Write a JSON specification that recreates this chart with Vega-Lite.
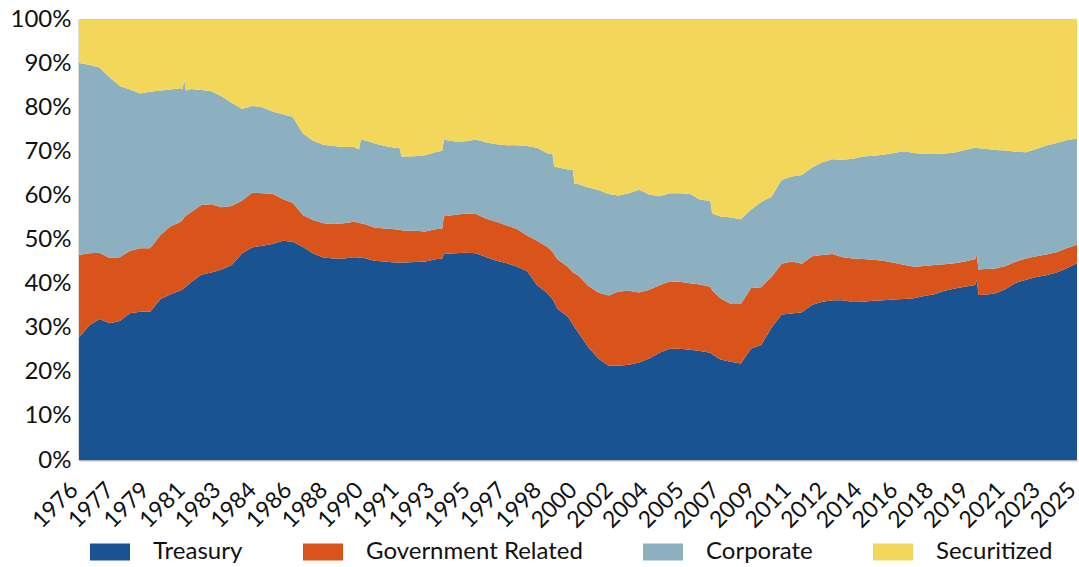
{
  "$schema": "https://vega.github.io/schema/vega-lite/v6.json",
  "width": 998,
  "height": 441,
  "autosize": {"type": "none"},
  "padding": {"left": 79, "top": 19, "right": 2, "bottom": 107},
  "background": "white",
  "config": {
    "view": {"stroke": null},
    "font": "Lato",
    "axis": {"domainColor": "#b8b8b8", "domainWidth": 2, "ticks": false, "grid": false, "labelColor": "#111111", "labelFont": "Lato", "title": null},
    "legend": {"labelFont": "Lato"}
  },
  "datasets": {
    "order": [
      {"series": "Treasury", "rank": 1},
      {"series": "Government Related", "rank": 2},
      {"series": "Corporate", "rank": 3},
      {"series": "Securitized", "rank": 4}
    ]
  },
  "data": {"values": [
    {"date": "1976-01-01", "Treasury": 27.8, "Government Related": 18.7, "Corporate": 43.5, "Securitized": 10.0},
    {"date": "1976-07-01", "Treasury": 30.5, "Government Related": 16.4, "Corporate": 42.7, "Securitized": 10.4},
    {"date": "1977-01-01", "Treasury": 32.0, "Government Related": 15.0, "Corporate": 42.0, "Securitized": 11.0},
    {"date": "1977-07-01", "Treasury": 31.0, "Government Related": 14.8, "Corporate": 41.0, "Securitized": 13.2},
    {"date": "1978-01-01", "Treasury": 31.5, "Government Related": 14.5, "Corporate": 38.8, "Securitized": 15.2},
    {"date": "1978-07-01", "Treasury": 33.3, "Government Related": 14.1, "Corporate": 36.6, "Securitized": 16.0},
    {"date": "1979-01-01", "Treasury": 33.6, "Government Related": 14.4, "Corporate": 35.1, "Securitized": 16.9},
    {"date": "1979-07-01", "Treasury": 33.6, "Government Related": 14.4, "Corporate": 35.5, "Securitized": 16.5},
    {"date": "1980-01-01", "Treasury": 36.5, "Government Related": 14.5, "Corporate": 32.8, "Securitized": 16.2},
    {"date": "1980-07-01", "Treasury": 37.6, "Government Related": 15.4, "Corporate": 31.0, "Securitized": 16.0},
    {"date": "1981-01-01", "Treasury": 38.5, "Government Related": 15.5, "Corporate": 30.3, "Securitized": 15.7},
    {"date": "1981-02-01", "Treasury": 38.7, "Government Related": 15.8, "Corporate": 29.5, "Securitized": 16.0},
    {"date": "1981-03-01", "Treasury": 39.0, "Government Related": 16.0, "Corporate": 31.4, "Securitized": 13.6},
    {"date": "1981-04-01", "Treasury": 39.3, "Government Related": 16.1, "Corporate": 28.4, "Securitized": 16.2},
    {"date": "1981-07-01", "Treasury": 40.3, "Government Related": 15.9, "Corporate": 27.9, "Securitized": 15.9},
    {"date": "1982-01-01", "Treasury": 42.0, "Government Related": 15.8, "Corporate": 26.1, "Securitized": 16.1},
    {"date": "1982-07-01", "Treasury": 42.5, "Government Related": 15.5, "Corporate": 25.6, "Securitized": 16.4},
    {"date": "1983-01-01", "Treasury": 43.2, "Government Related": 14.1, "Corporate": 25.2, "Securitized": 17.5},
    {"date": "1983-07-01", "Treasury": 44.2, "Government Related": 13.4, "Corporate": 23.4, "Securitized": 19.0},
    {"date": "1984-01-01", "Treasury": 46.8, "Government Related": 12.0, "Corporate": 20.8, "Securitized": 20.4},
    {"date": "1984-07-01", "Treasury": 48.2, "Government Related": 12.4, "Corporate": 19.7, "Securitized": 19.7},
    {"date": "1985-01-01", "Treasury": 48.6, "Government Related": 11.9, "Corporate": 19.5, "Securitized": 20.0},
    {"date": "1985-07-01", "Treasury": 49.0, "Government Related": 11.4, "Corporate": 18.6, "Securitized": 21.0},
    {"date": "1986-01-01", "Treasury": 49.7, "Government Related": 9.5, "Corporate": 19.2, "Securitized": 21.6},
    {"date": "1986-07-01", "Treasury": 49.5, "Government Related": 8.8, "Corporate": 19.5, "Securitized": 22.2},
    {"date": "1987-01-01", "Treasury": 48.3, "Government Related": 7.2, "Corporate": 18.5, "Securitized": 26.0},
    {"date": "1987-07-01", "Treasury": 46.8, "Government Related": 7.6, "Corporate": 18.0, "Securitized": 27.6},
    {"date": "1988-01-01", "Treasury": 45.9, "Government Related": 7.8, "Corporate": 17.8, "Securitized": 28.5},
    {"date": "1988-07-01", "Treasury": 45.7, "Government Related": 7.8, "Corporate": 17.7, "Securitized": 28.8},
    {"date": "1989-01-01", "Treasury": 45.7, "Government Related": 8.0, "Corporate": 17.3, "Securitized": 29.0},
    {"date": "1989-07-01", "Treasury": 46.0, "Government Related": 8.0, "Corporate": 17.0, "Securitized": 29.0},
    {"date": "1989-10-01", "Treasury": 45.9, "Government Related": 7.9, "Corporate": 16.6, "Securitized": 29.6},
    {"date": "1989-11-01", "Treasury": 45.9, "Government Related": 7.8, "Corporate": 18.9, "Securitized": 27.4},
    {"date": "1990-01-01", "Treasury": 45.8, "Government Related": 7.7, "Corporate": 19.0, "Securitized": 27.5},
    {"date": "1990-07-01", "Treasury": 45.2, "Government Related": 7.5, "Corporate": 19.1, "Securitized": 28.2},
    {"date": "1991-01-01", "Treasury": 45.0, "Government Related": 7.5, "Corporate": 18.7, "Securitized": 28.8},
    {"date": "1991-07-01", "Treasury": 44.8, "Government Related": 7.5, "Corporate": 18.5, "Securitized": 29.2},
    {"date": "1991-10-01", "Treasury": 44.8, "Government Related": 7.4, "Corporate": 18.5, "Securitized": 29.3},
    {"date": "1991-11-01", "Treasury": 44.8, "Government Related": 7.3, "Corporate": 16.7, "Securitized": 31.2},
    {"date": "1992-01-01", "Treasury": 44.8, "Government Related": 7.2, "Corporate": 16.8, "Securitized": 31.2},
    {"date": "1992-07-01", "Treasury": 44.9, "Government Related": 7.1, "Corporate": 16.9, "Securitized": 31.1},
    {"date": "1993-01-01", "Treasury": 45.0, "Government Related": 6.8, "Corporate": 17.3, "Securitized": 30.9},
    {"date": "1993-07-01", "Treasury": 45.5, "Government Related": 6.8, "Corporate": 17.5, "Securitized": 30.2},
    {"date": "1993-11-01", "Treasury": 45.7, "Government Related": 6.8, "Corporate": 17.6, "Securitized": 29.9},
    {"date": "1993-12-01", "Treasury": 46.7, "Government Related": 8.6, "Corporate": 17.3, "Securitized": 27.4},
    {"date": "1994-07-01", "Treasury": 46.9, "Government Related": 8.7, "Corporate": 16.6, "Securitized": 27.8},
    {"date": "1995-01-01", "Treasury": 47.0, "Government Related": 8.9, "Corporate": 16.4, "Securitized": 27.7},
    {"date": "1995-07-01", "Treasury": 46.9, "Government Related": 8.9, "Corporate": 16.9, "Securitized": 27.3},
    {"date": "1996-01-01", "Treasury": 46.0, "Government Related": 8.7, "Corporate": 17.3, "Securitized": 28.0},
    {"date": "1996-07-01", "Treasury": 45.2, "Government Related": 8.8, "Corporate": 17.6, "Securitized": 28.4},
    {"date": "1997-01-01", "Treasury": 44.6, "Government Related": 8.6, "Corporate": 18.2, "Securitized": 28.6},
    {"date": "1997-07-01", "Treasury": 43.9, "Government Related": 8.5, "Corporate": 19.0, "Securitized": 28.6},
    {"date": "1998-01-01", "Treasury": 42.8, "Government Related": 8.1, "Corporate": 20.3, "Securitized": 28.8},
    {"date": "1998-07-01", "Treasury": 39.6, "Government Related": 10.1, "Corporate": 21.1, "Securitized": 29.2},
    {"date": "1999-01-01", "Treasury": 37.8, "Government Related": 10.5, "Corporate": 21.2, "Securitized": 30.5},
    {"date": "1999-04-01", "Treasury": 36.5, "Government Related": 10.7, "Corporate": 22.2, "Securitized": 30.6},
    {"date": "1999-05-01", "Treasury": 35.8, "Government Related": 10.8, "Corporate": 19.9, "Securitized": 33.5},
    {"date": "1999-07-01", "Treasury": 34.3, "Government Related": 11.2, "Corporate": 20.9, "Securitized": 33.6},
    {"date": "2000-01-01", "Treasury": 32.5, "Government Related": 11.3, "Corporate": 22.1, "Securitized": 34.1},
    {"date": "2000-04-01", "Treasury": 30.8, "Government Related": 11.8, "Corporate": 23.2, "Securitized": 34.2},
    {"date": "2000-05-01", "Treasury": 30.1, "Government Related": 12.2, "Corporate": 20.3, "Securitized": 37.4},
    {"date": "2000-07-01", "Treasury": 29.0, "Government Related": 12.9, "Corporate": 20.7, "Securitized": 37.4},
    {"date": "2001-01-01", "Treasury": 25.6, "Government Related": 13.9, "Corporate": 22.3, "Securitized": 38.2},
    {"date": "2001-07-01", "Treasury": 23.0, "Government Related": 15.0, "Corporate": 23.2, "Securitized": 38.8},
    {"date": "2002-01-01", "Treasury": 21.4, "Government Related": 15.9, "Corporate": 23.0, "Securitized": 39.7},
    {"date": "2002-07-01", "Treasury": 21.4, "Government Related": 16.8, "Corporate": 21.8, "Securitized": 40.0},
    {"date": "2003-01-01", "Treasury": 21.6, "Government Related": 16.8, "Corporate": 22.1, "Securitized": 39.5},
    {"date": "2003-07-01", "Treasury": 22.1, "Government Related": 15.9, "Corporate": 23.3, "Securitized": 38.7},
    {"date": "2004-01-01", "Treasury": 23.0, "Government Related": 15.6, "Corporate": 21.6, "Securitized": 39.8},
    {"date": "2004-07-01", "Treasury": 24.3, "Government Related": 15.3, "Corporate": 20.2, "Securitized": 40.2},
    {"date": "2005-01-01", "Treasury": 25.2, "Government Related": 15.3, "Corporate": 20.0, "Securitized": 39.5},
    {"date": "2005-07-01", "Treasury": 25.2, "Government Related": 15.2, "Corporate": 20.1, "Securitized": 39.5},
    {"date": "2006-01-01", "Treasury": 25.0, "Government Related": 15.1, "Corporate": 20.2, "Securitized": 39.7},
    {"date": "2006-07-01", "Treasury": 24.7, "Government Related": 15.1, "Corporate": 19.2, "Securitized": 41.0},
    {"date": "2007-01-01", "Treasury": 24.3, "Government Related": 15.0, "Corporate": 19.5, "Securitized": 41.2},
    {"date": "2007-02-01", "Treasury": 24.0, "Government Related": 14.5, "Corporate": 17.4, "Securitized": 44.1},
    {"date": "2007-07-01", "Treasury": 22.8, "Government Related": 13.9, "Corporate": 18.5, "Securitized": 44.8},
    {"date": "2008-01-01", "Treasury": 22.3, "Government Related": 13.1, "Corporate": 19.6, "Securitized": 45.0},
    {"date": "2008-07-01", "Treasury": 21.9, "Government Related": 13.5, "Corporate": 19.2, "Securitized": 45.4},
    {"date": "2009-01-01", "Treasury": 25.3, "Government Related": 13.7, "Corporate": 17.8, "Securitized": 43.2},
    {"date": "2009-07-01", "Treasury": 26.1, "Government Related": 13.1, "Corporate": 19.3, "Securitized": 41.5},
    {"date": "2010-01-01", "Treasury": 30.0, "Government Related": 11.5, "Corporate": 18.2, "Securitized": 40.3},
    {"date": "2010-07-01", "Treasury": 33.0, "Government Related": 11.5, "Corporate": 19.0, "Securitized": 36.5},
    {"date": "2011-01-01", "Treasury": 33.2, "Government Related": 11.8, "Corporate": 19.3, "Securitized": 35.7},
    {"date": "2011-07-01", "Treasury": 33.5, "Government Related": 11.0, "Corporate": 20.1, "Securitized": 35.4},
    {"date": "2012-01-01", "Treasury": 35.2, "Government Related": 11.0, "Corporate": 20.1, "Securitized": 33.7},
    {"date": "2012-07-01", "Treasury": 35.9, "Government Related": 10.6, "Corporate": 21.0, "Securitized": 32.5},
    {"date": "2013-01-01", "Treasury": 36.2, "Government Related": 10.5, "Corporate": 21.5, "Securitized": 31.8},
    {"date": "2013-07-01", "Treasury": 36.2, "Government Related": 9.8, "Corporate": 22.1, "Securitized": 31.9},
    {"date": "2014-01-01", "Treasury": 35.8, "Government Related": 9.9, "Corporate": 22.6, "Securitized": 31.7},
    {"date": "2014-07-01", "Treasury": 35.9, "Government Related": 9.7, "Corporate": 23.2, "Securitized": 31.2},
    {"date": "2015-01-01", "Treasury": 36.1, "Government Related": 9.3, "Corporate": 23.6, "Securitized": 31.0},
    {"date": "2015-07-01", "Treasury": 36.2, "Government Related": 9.0, "Corporate": 24.0, "Securitized": 30.8},
    {"date": "2016-01-01", "Treasury": 36.4, "Government Related": 8.3, "Corporate": 24.9, "Securitized": 30.4},
    {"date": "2016-07-01", "Treasury": 36.5, "Government Related": 7.8, "Corporate": 25.7, "Securitized": 30.0},
    {"date": "2017-01-01", "Treasury": 36.7, "Government Related": 7.1, "Corporate": 25.8, "Securitized": 30.4},
    {"date": "2017-07-01", "Treasury": 37.2, "Government Related": 6.8, "Corporate": 25.4, "Securitized": 30.6},
    {"date": "2018-01-01", "Treasury": 37.6, "Government Related": 6.6, "Corporate": 25.2, "Securitized": 30.6},
    {"date": "2018-07-01", "Treasury": 38.4, "Government Related": 6.0, "Corporate": 25.1, "Securitized": 30.5},
    {"date": "2019-01-01", "Treasury": 38.9, "Government Related": 5.7, "Corporate": 25.1, "Securitized": 30.3},
    {"date": "2019-07-01", "Treasury": 39.3, "Government Related": 5.7, "Corporate": 25.3, "Securitized": 29.7},
    {"date": "2020-01-01", "Treasury": 39.7, "Government Related": 5.8, "Corporate": 25.3, "Securitized": 29.2},
    {"date": "2020-02-01", "Treasury": 40.8, "Government Related": 5.7, "Corporate": 24.3, "Securitized": 29.2},
    {"date": "2020-03-01", "Treasury": 37.4, "Government Related": 5.8, "Corporate": 27.5, "Securitized": 29.3},
    {"date": "2020-07-01", "Treasury": 37.5, "Government Related": 5.8, "Corporate": 27.3, "Securitized": 29.4},
    {"date": "2021-01-01", "Treasury": 37.8, "Government Related": 5.6, "Corporate": 26.9, "Securitized": 29.7},
    {"date": "2021-07-01", "Treasury": 38.8, "Government Related": 5.2, "Corporate": 26.2, "Securitized": 29.8},
    {"date": "2022-01-01", "Treasury": 40.2, "Government Related": 4.8, "Corporate": 24.9, "Securitized": 30.1},
    {"date": "2022-07-01", "Treasury": 40.9, "Government Related": 4.8, "Corporate": 24.1, "Securitized": 30.2},
    {"date": "2023-01-01", "Treasury": 41.5, "Government Related": 4.7, "Corporate": 24.3, "Securitized": 29.5},
    {"date": "2023-07-01", "Treasury": 41.9, "Government Related": 4.7, "Corporate": 24.7, "Securitized": 28.7},
    {"date": "2024-01-01", "Treasury": 42.5, "Government Related": 4.6, "Corporate": 24.8, "Securitized": 28.1},
    {"date": "2024-07-01", "Treasury": 43.5, "Government Related": 4.5, "Corporate": 24.5, "Securitized": 27.5},
    {"date": "2025-01-01", "Treasury": 44.6, "Government Related": 4.2, "Corporate": 24.1, "Securitized": 27.1}
  ]},
  "transform": [
    {"fold": ["Treasury", "Government Related", "Corporate", "Securitized"], "as": ["series", "share"]},
    {"lookup": "series", "from": {"data": {"name": "order"}, "key": "series", "fields": ["rank"]}}
  ],
  "mark": {"type": "area", "interpolate": "linear"},
  "encoding": {
    "x": {
      "field": "date", "type": "temporal",
      "scale": {"type": "utc", "domain": [{"year": 1976, "month": 1, "date": 1, "utc": true}, {"year": 2025, "month": 1, "date": 1, "utc": true}], "nice": false},
      "axis": {
        "format": "%Y", "labelAngle": -45, "labelFontSize": 23, "labelPadding": 31, "labelAlign": "right", "labelBaseline": "alphabetic", "labelOverlap": false, "labelFlush": false,
        "values": [
          {"year": 1976, "month": 1, "date": 1, "utc": true},
          {"year": 1977, "month": 10, "date": 1, "utc": true},
          {"year": 1979, "month": 7, "date": 1, "utc": true},
          {"year": 1981, "month": 4, "date": 1, "utc": true},
          {"year": 1983, "month": 1, "date": 1, "utc": true},
          {"year": 1984, "month": 10, "date": 1, "utc": true},
          {"year": 1986, "month": 7, "date": 1, "utc": true},
          {"year": 1988, "month": 4, "date": 1, "utc": true},
          {"year": 1990, "month": 1, "date": 1, "utc": true},
          {"year": 1991, "month": 10, "date": 1, "utc": true},
          {"year": 1993, "month": 7, "date": 1, "utc": true},
          {"year": 1995, "month": 4, "date": 1, "utc": true},
          {"year": 1997, "month": 1, "date": 1, "utc": true},
          {"year": 1998, "month": 10, "date": 1, "utc": true},
          {"year": 2000, "month": 7, "date": 1, "utc": true},
          {"year": 2002, "month": 4, "date": 1, "utc": true},
          {"year": 2004, "month": 1, "date": 1, "utc": true},
          {"year": 2005, "month": 10, "date": 1, "utc": true},
          {"year": 2007, "month": 7, "date": 1, "utc": true},
          {"year": 2009, "month": 4, "date": 1, "utc": true},
          {"year": 2011, "month": 1, "date": 1, "utc": true},
          {"year": 2012, "month": 10, "date": 1, "utc": true},
          {"year": 2014, "month": 7, "date": 1, "utc": true},
          {"year": 2016, "month": 4, "date": 1, "utc": true},
          {"year": 2018, "month": 1, "date": 1, "utc": true},
          {"year": 2019, "month": 10, "date": 1, "utc": true},
          {"year": 2021, "month": 7, "date": 1, "utc": true},
          {"year": 2023, "month": 4, "date": 1, "utc": true},
          {"year": 2025, "month": 1, "date": 1, "utc": true}
        ]
      }
    },
    "y": {
      "field": "share", "type": "quantitative", "stack": "normalize",
      "scale": {"domain": [0, 1], "nice": false},
      "axis": {"format": ".0%", "values": [0, 0.1, 0.2, 0.3, 0.4, 0.5, 0.6, 0.7, 0.8, 0.9, 1], "labelFontSize": 24, "labelPadding": 8}
    },
    "order": {"field": "rank", "type": "quantitative", "sort": "ascending"},
    "color": {
      "field": "series", "type": "nominal",
      "sort": ["Treasury", "Government Related", "Corporate", "Securitized"],
      "scale": {"domain": ["Treasury", "Government Related", "Corporate", "Securitized"], "range": ["#1a5391", "#d9541a", "#8cb0bf", "#f2d75b"]},
      "legend": {
        "title": null, "orient": "none", "direction": "horizontal", "legendX": 11, "legendY": 513,
        "symbolType": "M-1,-0.42H1V0.42H-1Z", "symbolSize": 1600, "symbolStrokeWidth": 0, "symbolOpacity": 1,
        "labelFontSize": 24, "labelColor": "#111111", "labelOffset": 23, "columnPadding": 60, "labelLimit": 400
      }
    }
  }
}
